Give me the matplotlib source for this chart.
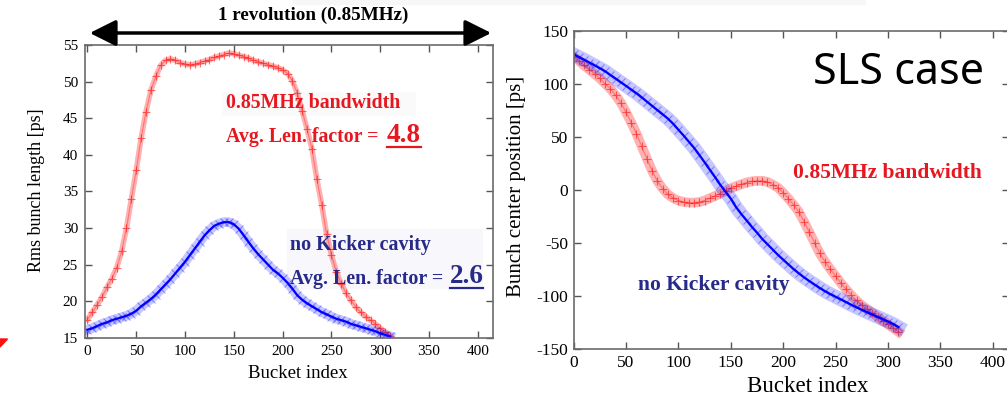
import numpy as np
import matplotlib.pyplot as plt
from matplotlib.patches import Polygon, Rectangle, FancyArrowPatch
from matplotlib.lines import Line2D

plt.rcParams['font.family'] = ['Liberation Serif', 'DejaVu Serif']
plt.rcParams['axes.unicode_minus'] = False

# data (every 5th bucket)
bucket = np.arange(0, 311, 5)
len_red = [17.5, 18.5, 19.5, 20.6, 21.9, 23.1, 24.6, 26.8, 30.0, 34.0,
           37.9, 42.3, 45.9, 48.8, 50.7, 52.2, 52.9, 53.1, 52.9, 52.6,
           52.4, 52.3, 52.4, 52.6, 52.8, 53.0, 53.3, 53.5, 53.7, 53.9,
           53.8, 53.6, 53.4, 53.2, 52.9, 52.7, 52.5, 52.3, 52.1, 51.9,
           51.6, 51.1, 50.1, 48.4, 46.0, 43.5, 40.8, 36.7, 33.2, 29.2,
           26.3, 24.0, 22.4, 21.1, 20.1, 19.2, 18.5, 17.9, 17.4, 16.9,
           16.3, 15.8, 15.3]
len_blue = [16.1, 16.3, 16.6, 16.9, 17.1, 17.4, 17.6, 17.8, 18.0, 18.3,
            18.7, 19.3, 19.8, 20.3, 20.9, 21.6, 22.3, 23.0, 23.8, 24.6,
            25.4, 26.3, 27.2, 28.1, 29.0, 29.7, 30.3, 30.6, 30.8, 30.8,
            30.5, 29.9, 29.0, 28.1, 27.2, 26.4, 25.7, 25.0, 24.3, 23.8,
            23.2, 22.5, 21.7, 20.8, 20.2, 19.7, 19.3, 18.9, 18.5, 18.2,
            17.9, 17.6, 17.4, 17.2, 16.9, 16.7, 16.5, 16.3, 16.1, 15.9,
            15.6, 15.4, 15.2]
pos_red = [125.8, 122.0, 117.5, 113.5, 109.5, 105.3, 100.5, 95.6, 89.5, 82.5,
           73.5, 63.7, 53.3, 41.2, 29.5, 18.0, 8.5, 1.5, -4.0, -7.5,
           -9.8, -11.1, -11.7, -11.8, -11.2, -9.8, -7.6, -5.5, -3.2, -0.6,
           1.8, 3.8, 5.5, 7.2, 8.3, 8.8, 8.8, 7.8, 5.3, 2.3,
           -2.5, -8.0, -14.0, -20.5, -29.9, -39.7, -49.7, -59.7, -67.5, -74.5,
           -81.0, -87.5, -93.5, -99.0, -104.0, -108.5, -112.0, -115.5, -119.5, -123.3,
           -126.5, -130.0, -133.5]
pos_blue = [128.0, 125.5, 123.0, 120.3, 117.6, 114.9, 112.1, 108.6, 105.2, 101.7,
            98.3, 94.8, 91.3, 87.4, 83.4, 79.4, 75.4, 71.4, 67.4, 62.6,
            57.0, 51.4, 45.6, 39.8, 33.1, 26.2, 19.2, 12.2, 5.0, -1.5,
            -8.0, -16.0, -22.5, -28.5, -34.5, -40.0, -46.0, -51.0, -56.0, -61.0,
            -65.5, -70.0, -74.5, -78.5, -82.3, -85.7, -89.0, -92.3, -95.3, -98.0,
            -100.5, -103.0, -105.5, -108.0, -110.5, -112.8, -115.0, -117.2, -119.4, -121.6,
            -123.8, -126.2, -129.0]

bucket_ticks = np.arange(0, 401, 50)
len_ticks = np.arange(15, 56, 5)
pos_ticks = np.arange(-150, 151, 50)

RED = '#ff0000'
BLUE = '#0000ff'
RED_TXT = '#e8161f'
BLUE_TXT = '#272a88'

W, H = 1007, 398
fig = plt.figure(figsize=(W / 100, H / 100), dpi=100)


def fx(px):
    return px / W


def fy(py):
    return 1 - py / H


def style_axes(ax, size, pad):
    ax.tick_params(direction='in', top=True, right=True, length=5, width=1,
                   color='#555555', labelsize=size, pad=pad)
    for s in ax.spines.values():
        s.set_color('#6b6b6b')
        s.set_linewidth(1.2)


def draw_red(ax, x, y, band):
    ax.plot(x, y, color=RED, lw=band, alpha=0.3)
    ax.plot(x, y, color=RED, lw=0.8, alpha=0.35)
    ax.plot(x, y, ls='none', marker='+', ms=6, mew=0.8, color=RED, alpha=0.55)


def draw_blue(ax, x, y, band):
    ax.plot(x, y, color=BLUE, lw=band, alpha=0.22)
    ax.plot(x, y, ls='none', marker='x', ms=6, mew=0.8, color=BLUE, alpha=0.35)
    ax.plot(x, y, color=BLUE, lw=1.6)


def underline(t):
    fig.canvas.draw()
    bb = t.get_window_extent().transformed(fig.transFigure.inverted())
    fig.add_artist(Line2D([bb.x0, bb.x1], [bb.y0 + 0.002, bb.y0 + 0.002],
                          transform=fig.transFigure, color=t.get_color(), lw=1.6))


# left panel: bunch length
ax1 = fig.add_axes([fx(85), fy(337.8), (493 - 85) / W, (337.8 - 45) / H])
ax1.add_patch(Rectangle((138, 45.5), 198, 3.1, color='#fafafa', zorder=0))
ax1.add_patch(Rectangle((204, 21.8), 200, 8.0, color='#f8f8fc', zorder=0))
draw_red(ax1, bucket, len_red, 4)
draw_blue(ax1, bucket, len_blue, 7)
ax1.set_xlim(-2.5, 415.5)
ax1.set_ylim(15, 55)
ax1.set_xticks(bucket_ticks)
ax1.set_yticks(len_ticks)
style_axes(ax1, 11, 5)
ax1.text(142, 47.1, '0.85MHz bandwidth', color=RED_TXT, fontsize=14.3,
         fontweight='bold', va='center')
ax1.text(142, 42.4, 'Avg. Len. factor = ', color=RED_TXT, fontsize=14.3,
         fontweight='bold', va='center')
t1 = ax1.text(306.5, 42.7, '4.8', color=RED_TXT, fontsize=19.5,
              fontweight='bold', va='center')
ax1.text(207.5, 27.7, 'no Kicker cavity', color=BLUE_TXT, fontsize=14.4,
         fontweight='bold', va='center')
ax1.text(207.5, 23.0, 'Avg. Len. factor = ', color=BLUE_TXT, fontsize=14.4,
         fontweight='bold', va='center')
t2 = ax1.text(371, 23.4, '2.6', color=BLUE_TXT, fontsize=19.5,
              fontweight='bold', va='center')

# right panel: bunch centre position
ax2 = fig.add_axes([fx(573.6), fy(349.3), (1008.5 - 573.6) / W, (349.3 - 31) / H])
draw_red(ax2, bucket, pos_red, 7)
draw_blue(ax2, bucket, pos_blue, 10)
ax2.set_xlim(0, 415)
ax2.set_ylim(-150, 150)
ax2.set_xticks(bucket_ticks)
ax2.set_yticks(pos_ticks)
style_axes(ax2, 12.5, 4)
ax2.text(228, 110.4, 'SLS case', fontsize=31, family=['Noto Sans', 'DejaVu Sans'],
         va='center')
ax2.text(209.4, 16, '0.85MHz bandwidth', color=RED_TXT, fontsize=15.5,
         fontweight='bold', va='center')
ax2.text(61.5, -89.6, 'no Kicker cavity', color=BLUE_TXT, fontsize=15.5,
         fontweight='bold', va='center')

# axis labels
fig.text(fx(37), fy(190), 'Rms bunch length [ps]', rotation=90, fontsize=13,
         ha='center', va='center')
fig.text(fx(298), fy(373), 'Bucket index', fontsize=13.5, ha='center', va='center')
fig.text(fx(517), fy(186), 'Bunch center position [ps]', rotation=90,
         fontsize=15, ha='center', va='center')
fig.text(fx(808), fy(386), 'Bucket index', fontsize=16.5, ha='center', va='center')

# revolution arrow above the left panel
fig.text(fx(313), fy(15), '1 revolution (0.85MHz)', fontsize=13.8,
         fontweight='bold', ha='center', va='center')
fig.add_artist(FancyArrowPatch((fx(87), fy(33)), (fx(494), fy(33)),
                               transform=fig.transFigure,
                               arrowstyle='<|-|>,head_length=1.6,head_width=0.8',
                               mutation_scale=10, lw=2.5, color='black'))

# leftovers from the slide
fig.add_artist(Rectangle((fx(293), fy(4)), fx(865) - fx(293), 4 / H,
                         transform=fig.transFigure, color='#f7f7f7', zorder=0))
fig.add_artist(Polygon([[0, fy(339)], [fx(7.5), fy(339)], [0, fy(347)]],
                       closed=True, transform=fig.transFigure, color='#ff1010'))

underline(t1)
underline(t2)

fig.savefig('out.png', dpi=100)
